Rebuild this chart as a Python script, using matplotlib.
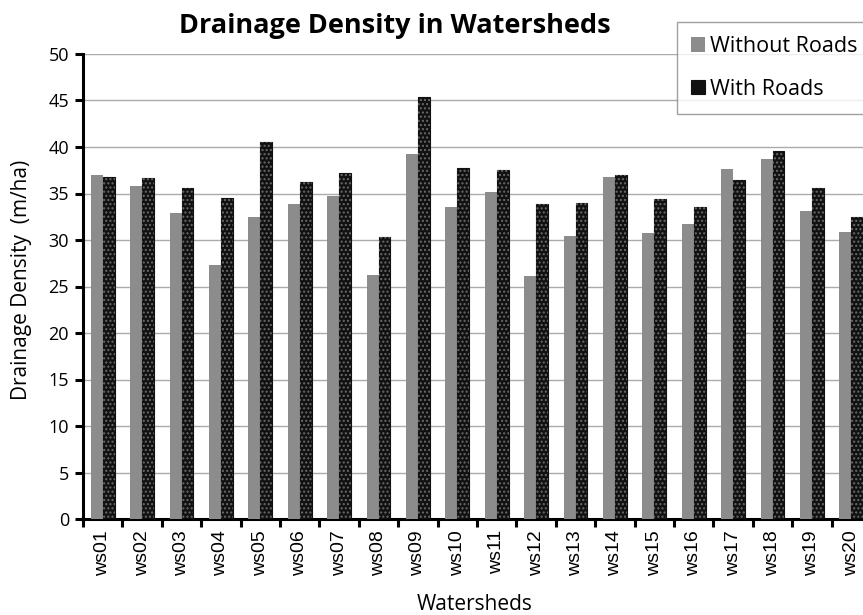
import matplotlib.pyplot as plt
import numpy as np

# values
watersheds = ["ws%02d" % i for i in range(1, 21)]
without_roads = [37.0, 35.8, 32.9, 27.3, 32.5, 33.9, 34.7, 26.2, 39.2, 33.6,
                 35.2, 26.1, 30.4, 36.8, 30.8, 31.7, 37.6, 38.7, 33.1, 30.9]
with_roads = [36.8, 36.7, 35.6, 34.5, 40.5, 36.2, 37.2, 30.3, 45.4, 37.7,
              37.5, 33.9, 34.0, 37.0, 34.4, 33.5, 36.5, 39.6, 35.6, 32.5]

plt.rcParams["hatch.linewidth"] = 1.0
label_font = "Open Sans"
tick_font = "Liberation Sans"


def main():
    fig = plt.figure(figsize=(8.63, 6.15), dpi=100)
    ax = fig.add_axes([83 / 863, 1 - 519 / 615, 788 / 863, 465 / 615])

    x = np.arange(len(watersheds))
    w = 0.30
    ax.bar(x - w / 2, without_roads, w, color="#8c8c8c", zorder=3,
           label="Without Roads")
    ax.bar(x + w / 2, with_roads, w, color="#111111", edgecolor="#111111",
           linewidth=0.8, zorder=3, label="With Roads")
    # dotted texture on the dark bars
    ax.bar(x + w / 2, with_roads, w, color="none", edgecolor="#6a6a6a",
           hatch="....", linewidth=0, zorder=4)

    ax.set_ylim(0, 50)
    ax.set_xlim(-0.5, len(watersheds) - 0.5)
    ax.set_yticks(range(0, 51, 5))
    ax.yaxis.grid(True, color="#ababab", linewidth=1.0, zorder=0)
    ax.set_axisbelow(True)

    ax.set_xticks(np.arange(-0.5, len(watersheds), 1.0))
    ax.set_xticklabels([])
    ax.set_xticks(x, minor=True)
    ax.set_xticklabels(watersheds, minor=True, rotation=90,
                       fontsize=14, family=tick_font)
    ax.tick_params(axis="x", which="major", length=6, width=2.2,
                   direction="out")
    ax.tick_params(axis="x", which="minor", length=0, pad=8)
    ax.tick_params(axis="y", length=6, width=2.2, direction="out",
                   labelsize=13, pad=4)
    for lab in ax.get_yticklabels():
        lab.set_family(label_font)

    for side in ["top", "right"]:
        ax.spines[side].set_visible(False)
    ax.spines["left"].set_linewidth(2.2)
    ax.spines["bottom"].set_linewidth(2.2)

    fig.text(22 / 863, 1 - 280 / 615, "Drainage Density  (m/ha)",
             rotation=90, ha="center", va="center", fontsize=15,
             family=label_font)
    fig.text(475 / 863, 1 - 604 / 615, "Watersheds", ha="center",
             va="center", fontsize=15, family=label_font)
    fig.text(395 / 863, 1 - 26 / 615, "Drainage Density in Watersheds",
             ha="center", va="center", fontsize=19.5, fontweight="bold",
             family=label_font)

    leg = ax.legend(loc="upper left", bbox_to_anchor=(677 / 863, 1 - 22 / 615),
                    bbox_transform=fig.transFigure, frameon=True,
                    borderaxespad=0, fancybox=False, edgecolor="#888888",
                    handlelength=0.65, handleheight=0.65, handletextpad=0.25,
                    labelspacing=1.0, borderpad=0.65,
                    prop={"family": label_font, "size": 15.5})
    leg.get_frame().set_linewidth(1.0)

    fig.savefig("out.png", dpi=100)


if __name__ == "__main__":
    main()
